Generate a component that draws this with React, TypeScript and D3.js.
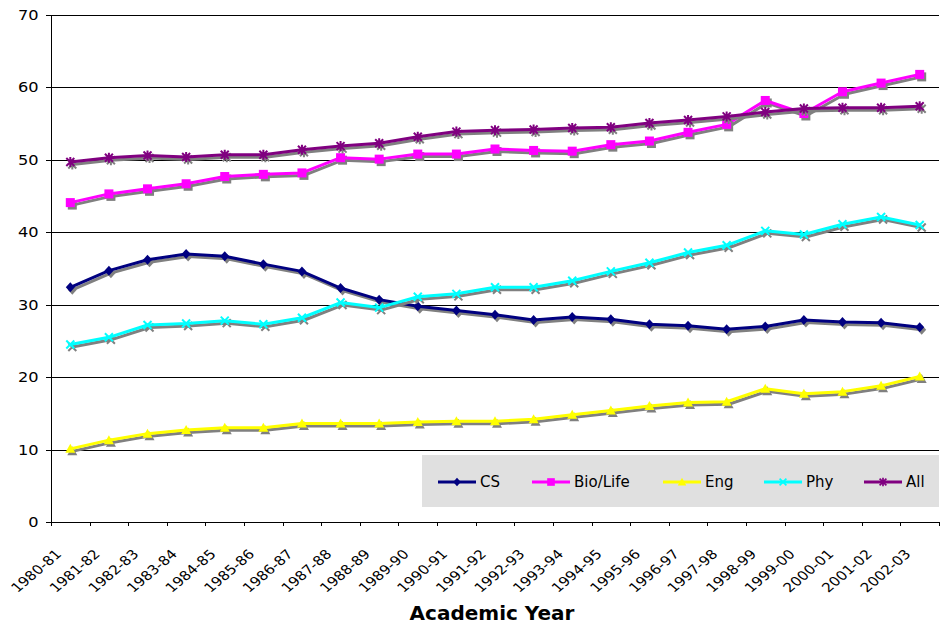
import React from "react";
import * as d3 from "d3";

const categories = [
  "1980-81", "1981-82", "1982-83", "1983-84", "1984-85", "1985-86", "1986-87", "1987-88",
  "1988-89", "1989-90", "1990-91", "1991-92", "1992-93", "1993-94", "1994-95", "1995-96",
  "1996-97", "1997-98", "1998-99", "1999-00", "2000-01", "2001-02", "2002-03",
];

const csValues = [32.4, 34.7, 36.2, 37.0, 36.7, 35.6, 34.6, 32.3, 30.7, 29.8, 29.2, 28.6, 27.9, 28.3, 28.0, 27.3, 27.1, 26.6, 27.0, 27.9, 27.6, 27.5, 26.9];
const bioValues = [44.1, 45.3, 46.0, 46.7, 47.7, 48.0, 48.2, 50.3, 50.1, 50.8, 50.8, 51.5, 51.3, 51.2, 52.1, 52.6, 53.8, 54.9, 58.2, 56.4, 59.4, 60.6, 61.8];
const engValues = [10.1, 11.3, 12.2, 12.7, 13.0, 13.0, 13.6, 13.6, 13.6, 13.8, 13.9, 13.9, 14.2, 14.8, 15.4, 16.0, 16.5, 16.6, 18.4, 17.7, 18.0, 18.8, 20.1];
const phyValues = [24.5, 25.5, 27.2, 27.4, 27.8, 27.3, 28.2, 30.3, 29.6, 31.1, 31.5, 32.4, 32.4, 33.3, 34.6, 35.8, 37.2, 38.2, 40.2, 39.7, 41.1, 42.1, 41.0];
const allValues = [49.7, 50.3, 50.6, 50.4, 50.7, 50.7, 51.4, 51.9, 52.3, 53.2, 53.9, 54.1, 54.2, 54.4, 54.5, 55.1, 55.5, 56.0, 56.6, 57.1, 57.2, 57.2, 57.4];

const seriesNames = ["CS", "Bio/Life", "Eng", "Phy", "All"];
const seriesColors = ["#000080", "#FF00FF", "#FFFF00", "#00FFFF", "#800080"];
const seriesMarkers = ["diamond", "square", "triangle", "x", "star"];
const yTicks = [0, 10, 20, 30, 40, 50, 60, 70];

const FONT = "Verdana, 'DejaVu Sans', sans-serif";

function Marker({ type, color, cx, cy, s = 1 }: { type: string; color: string; cx: number; cy: number; s?: number }) {
  const t = `translate(${cx},${cy}) scale(${s})`;
  if (type === "diamond") return <path transform={t} d="M0,-5L4.5,0L0,5L-4.5,0Z" fill={color} />;
  if (type === "square") return <rect transform={t} x={-4.5} y={-4.5} width={9} height={9} fill={color} />;
  if (type === "triangle") return <path transform={t} d="M0,-5L5,4L-5,4Z" fill={color} />;
  if (type === "x")
    return <path transform={t} d="M-4,-4L4,4M-4,4L4,-4" stroke={color} strokeWidth={2} fill="none" />;
  return <path transform={t} d="M-4,-4L4,4M-4,4L4,-4M0,-5L0,5" stroke={color} strokeWidth={2} fill="none" />;
}

export default function App() {
  const width = 943;
  const height = 626;
  const left = 51;
  const right = 939;
  const top = 15;
  const bottom = 522;

  const x = d3.scaleBand<string>().domain(categories).range([left, right]);
  const y = d3.scaleLinear().domain([0, 70]).range([bottom, top]);
  const cx = (c: string) => (x(c) as number) + x.bandwidth() / 2;

  const allSeries = [csValues, bioValues, engValues, phyValues, allValues].map((vals, i) => ({
    name: seriesNames[i],
    color: seriesColors[i],
    marker: seriesMarkers[i],
    points: vals.map((v, j) => ({ c: categories[j], v })),
  }));

  const line = d3
    .line<{ c: string; v: number }>()
    .x((d) => cx(d.c))
    .y((d) => y(d.v));

  const shadow = "#808080";
  const legendX = [438, 532, 663, 764, 864];

  return (
    <svg width={width} height={height} style={{ position: "absolute", left: 0, top: 0, background: "#fff" }} fontFamily={FONT}>
      {/* gridlines */}
      {yTicks.filter((t) => t > 0).map((t) => (
        <line key={t} x1={left} x2={right} y1={Math.round(y(t)) + 0.5} y2={Math.round(y(t)) + 0.5} stroke="#000" strokeWidth={1} />
      ))}
      {/* y axis */}
      <line x1={left + 0.5} x2={left + 0.5} y1={top} y2={bottom} stroke="#000" />
      {yTicks.map((t) => (
        <g key={t}>
          <line x1={left - 5} x2={left} y1={Math.round(y(t)) + 0.5} y2={Math.round(y(t)) + 0.5} stroke="#000" />
          <text transform={`translate(38.5,${y(t) + 5}) scale(1.2,1)`} textAnchor="end" fontSize={13.5} fill="#000">
            {t}
          </text>
        </g>
      ))}
      {/* x axis */}
      <line x1={left} x2={right} y1={bottom + 0.5} y2={bottom + 0.5} stroke="#000" />
      {categories.concat(["__end"]).map((c, i) => {
        const xx = i < categories.length ? (x(c) as number) : right;
        return <line key={"t" + i} x1={Math.round(xx) + 0.5} x2={Math.round(xx) + 0.5} y1={bottom} y2={bottom + 4} stroke="#000" />;
      })}
      {categories.map((c) => (
        <text
          key={"l" + c}
          transform={`translate(${cx(c) - 8},${bottom + 33}) scale(1.17,1) rotate(-45)`}
          textAnchor="end"
          fontSize={13}
          fill="#000"
        >
          {c}
        </text>
      ))}
      <text x={(left + right) / 2 - 3} y={620} textAnchor="middle" fontSize={20} fontWeight="bold" fill="#000">
        Academic Year
      </text>

      {/* series */}
      {allSeries.map((s) => (
        <g key={s.name}>
          <g transform="translate(2,2.5)">
            <path d={line(s.points) || ""} fill="none" stroke={shadow} strokeWidth={3} strokeLinejoin="round" />
            {s.points.map((p) => (
              <Marker key={p.c} type={s.marker} color={shadow} cx={cx(p.c)} cy={y(p.v)} />
            ))}
          </g>
          <path d={line(s.points) || ""} fill="none" stroke={s.color} strokeWidth={3} strokeLinejoin="round" />
          {s.points.map((p) => (
            <Marker key={p.c} type={s.marker} color={s.color} cx={cx(p.c)} cy={y(p.v)} />
          ))}
        </g>
      ))}

      {/* legend */}
      <rect x={422} y={455} width={right - 422} height={52} fill="#E0E0E0" />
      {allSeries.map((s, i) => (
        <g key={"lg" + s.name}>
          <line x1={legendX[i]} x2={legendX[i] + 38} y1={482} y2={482} stroke={s.color} strokeWidth={3} />
          <Marker type={s.marker} color={s.color} cx={legendX[i] + 19} cy={482} s={0.85} />
          <text x={legendX[i] + 42} y={487} fontSize={15} fill="#000">
            {s.name}
          </text>
        </g>
      ))}
    </svg>
  );
}
